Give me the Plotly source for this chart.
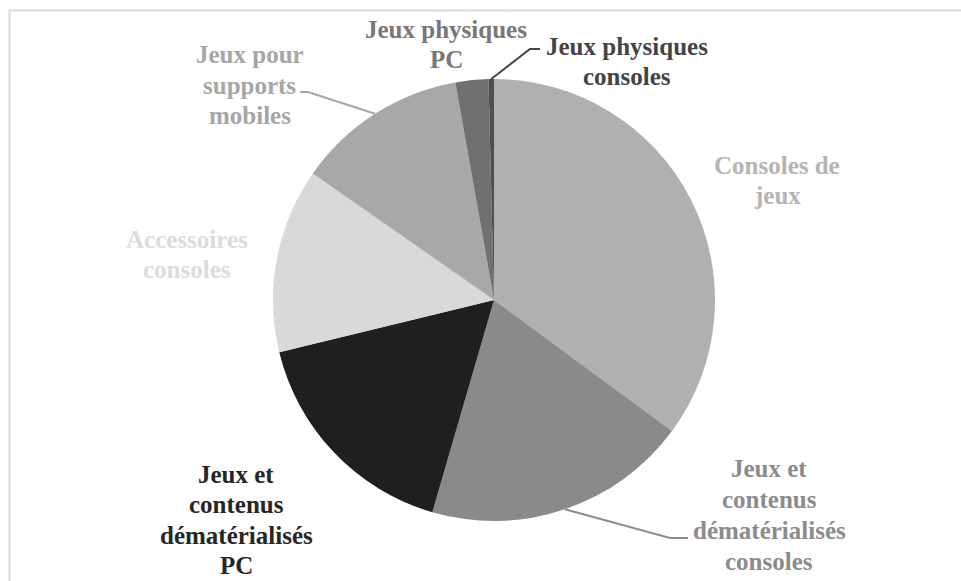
import math
import plotly.graph_objects as go

W, H = 961, 581

# ---- data ----
categories = [
    "Consoles de jeux",
    "Jeux et contenus dématérialisés consoles",
    "Jeux et contenus dématérialisés PC",
    "Accessoires consoles",
    "Jeux pour supports mobiles",
    "Jeux physiques PC",
    "Jeux physiques consoles",
]
values = [35.1, 19.4, 16.7, 13.5, 12.5, 2.4, 0.4]
label_lines = [
    ["Consoles de", "jeux"],
    ["Jeux et", "contenus", "dématérialisés", "consoles"],
    ["Jeux et", "contenus", "dématérialisés", "PC"],
    ["Accessoires", "consoles"],
    ["Jeux pour", "supports", "mobiles"],
    ["Jeux physiques", "PC"],
    ["Jeux physiques", "consoles"],
]

# ---- styles / layout ----
slice_colors = ["#b0b0b0", "#8a8a8a", "#1f1f1f", "#d9d9d9", "#a8a8a8", "#707070", "#4f4f4f"]
label_colors = ["#b4b4b4", "#8c8c8c", "#262626", "#dcdcdc", "#a6a6a6", "#777777", "#444444"]
label_cx = [777, 769, 236, 187, 250, 446, 627]
label_base = [173, 476, 482, 247, 62, 38, 55]
label_pitch = [30, 31, 30.5, 30, 31, 30, 30]
font_size = 25

cx, cy, R = 494, 300, 221


def px(x):
    return x / W


def py(y):
    return 1 - y / H


fig = go.Figure(go.Pie(
    labels=categories,
    values=values,
    sort=False,
    direction="clockwise",
    rotation=0,
    marker=dict(colors=slice_colors, line=dict(width=0)),
    textinfo="none",
    hoverinfo="label+percent",
    showlegend=False,
    domain=dict(x=[px(cx - R), px(cx + R)], y=[py(cy + R), py(cy - R)]),
))

annotations = []
for lines, x0, b0, pitch, col in zip(label_lines, label_cx, label_base, label_pitch, label_colors):
    for i, t in enumerate(lines):
        base = b0 + i * pitch
        annotations.append(dict(
            x=px(x0), y=py(base - 8), xref="paper", yref="paper",
            text="<b>" + t + "</b>", showarrow=False,
            xanchor="center", yanchor="middle",
            font=dict(family="Liberation Serif, Times New Roman, serif", size=font_size, color=col),
        ))

# leader lines: pie end from the data mid-angles
total = sum(values)
cum = [sum(values[:i]) for i in range(len(values))]


def edge_point(i):
    a = 2 * math.pi * (cum[i] + values[i] / 2) / total
    return cx + R * math.sin(a), cy - R * math.cos(a)


leaders = {
    1: [(670, 538), (688, 538)],
    4: [(308, 92), (300, 92)],
    6: [(530, 49), (540, 49)],
}
shapes = []
for i, pts in leaders.items():
    ex, ey = edge_point(i)
    path = "M {},{} ".format(px(ex), py(ey)) + " ".join("L {},{}".format(px(x), py(y)) for x, y in pts)
    shapes.append(dict(type="path", xref="paper", yref="paper", path=path,
                       line=dict(color=label_colors[i], width=2)))

# chart area border (top and left visible)
shapes.append(dict(type="rect", xref="paper", yref="paper",
                   x0=px(9.5), x1=1.05, y0=-0.05, y1=py(10.5),
                   line=dict(color="#d9d9d9", width=2)))

fig.update_layout(
    width=W, height=H, autosize=False,
    margin=dict(l=0, r=0, t=0, b=0),
    paper_bgcolor="white", plot_bgcolor="white",
    annotations=annotations, shapes=shapes,
)

fig.write_html("out.html", config={"displayModeBar": False},
               post_script="document.body.style.margin='0';document.body.style.overflow='hidden';")
